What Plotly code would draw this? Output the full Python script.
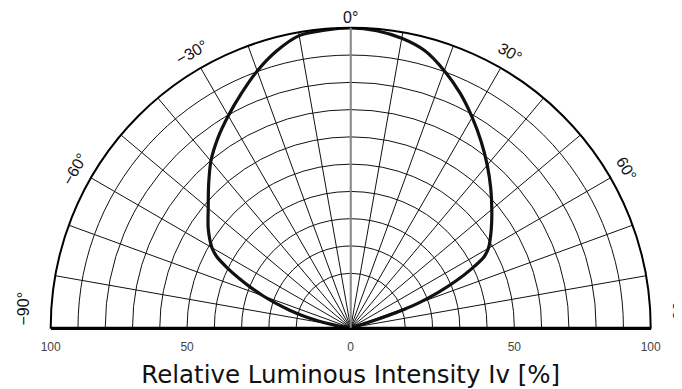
import numpy as np
import plotly.graph_objects as go

# ---- data ----
# emission angle in degrees (0 = on-axis, negative = left half)
angles = [-90, -84, -82, -80, -78, -76, -74, -72, -70, -68, -66, -64, -62, -60,
          -55, -50, -45, -40, -35, -30, -25, -20, -15, -10, -5, 0,
          5, 10, 15, 20, 25, 30, 35, 40, 45, 50, 55, 60,
          62, 64, 66, 68, 70, 71, 72, 73, 74, 90]
# relative luminous intensity (% of outer circle)
intensity = [0, 0, 3, 6.5, 11, 16, 21, 26, 31, 36, 41, 46, 50.6, 53.4,
             58, 62, 67, 72.5, 77.2, 81.6, 86.2, 91.1, 95.5, 98.9, 99.6, 100,
             99.4, 98.0, 95.6, 91.2, 86.3, 81.0, 75.8, 70.8, 66.0, 61.4, 57.2, 53.0,
             50.3, 44.8, 38.5, 31.5, 24, 19, 13, 6, 0, 0]

# angular tick labels
label_angles = [-90, -60, -30, 0, 30, 60, 90]
label_text = ["\u221290\u00b0", "\u221260\u00b0", "\u221230\u00b0", "0\u00b0",
              "30\u00b0", "60\u00b0", "90\u00b0"]

# bottom scale tick labels
scale_vals = [-100, -600 / 11, 0, 600 / 11, 100]
scale_text = ["100", "50", "0", "50", "100"]

# radial grid circles (11 equal divisions, innermost hidden)
grid_vals = [k * 100 / 11 for k in range(2, 12)]

title_text = "Relative Luminous Intensity Iv [%]"

# ---- layout geometry (pixels) ----
OFF = 8                      # page body margin around the figure
W, H = 682 - OFF, 389 - OFF  # figure fits the window exactly
cx, cy, R = 350.7 - OFF, 327.8 - OFF, 300.0
dom_x = [(cx - R) / W, (cx + R) / W]
dom_y = [1 - cy / H, 1 - (cy - R) / H]
unit = R / 100.0  # pixels per radial percent

fig = go.Figure()

fig.add_trace(go.Scatterpolar(
    r=intensity, theta=angles, mode="lines",
    line=dict(color="#111111", width=3.2, shape="spline", smoothing=0.7),
    showlegend=False, hoverinfo="skip",
))

# empty cartesian traces so the overlay axes exist
fig.add_trace(go.Scatter(x=[], y=[], showlegend=False))
fig.add_trace(go.Scatter(x=[], y=[], xaxis="x2", yaxis="y2", showlegend=False))

annotations = []
for a, t in zip(label_angles, label_text):
    s, c = np.sin(np.radians(a)), np.cos(np.radians(a))
    font = dict(family="Liberation Sans", size=16, color="#111111")
    if abs(a) == 90:
        annotations.append(dict(
            x=109 * s, y=0, xref="x2", yref="y2", text=t, showarrow=False,
            textangle=a, xanchor="center", yanchor="bottom", font=font))
    else:
        rr = 103.5 if a == 0 else 106
        annotations.append(dict(
            x=rr * s, y=rr * c, xref="x2", yref="y2", text=t, showarrow=False,
            textangle=a, xanchor="center", yanchor="middle", font=font))

fig.update_layout(
    width=W, height=H,
    margin=dict(l=0, r=0, t=0, b=0, autoexpand=False),
    paper_bgcolor="white", plot_bgcolor="rgba(0,0,0,0)",
    polar=dict(
        domain=dict(x=dom_x, y=dom_y),
        sector=[0, 180],
        bgcolor="rgba(0,0,0,0)",
        angularaxis=dict(
            rotation=90, direction="clockwise",
            tickmode="linear", tick0=0, dtick=10,
            showgrid=True, gridcolor="#111111", gridwidth=1,
            showline=True, linecolor="#000000", linewidth=2,
            ticks="", showticklabels=False,
        ),
        radialaxis=dict(
            range=[0, 100], angle=90,
            tickmode="array", tickvals=grid_vals,
            showgrid=True, gridcolor="#111111", gridwidth=1,
            showline=True, linecolor="#8a8a8a", linewidth=2,
            ticks="", showticklabels=False,
        ),
    ),
    xaxis=dict(
        domain=dom_x, range=[-100, 100], automargin=False,
        showgrid=False, zeroline=False,
        showline=True, linecolor="#000000", linewidth=2,
        tickmode="array", tickvals=scale_vals, ticktext=scale_text,
        ticks="", ticklabelstandoff=7,
        tickfont=dict(family="Liberation Sans", size=12, color="#444444"),
        title=dict(text=title_text, standoff=13,
                   font=dict(family="DejaVu Sans", size=24.5, color="#111111")),
        fixedrange=True,
    ),
    yaxis=dict(
        domain=dom_y, range=[0, 100], visible=False, fixedrange=True,
        automargin=False,
    ),
    # full-figure overlay axes (same units as the polar radius) for angle labels
    xaxis2=dict(
        domain=[0, 1], range=[-cx / unit, (W - cx) / unit], visible=False,
        anchor="y2", fixedrange=True, automargin=False,
    ),
    yaxis2=dict(
        domain=[0, 1], range=[-(H - cy) / unit, cy / unit], visible=False,
        anchor="x2", fixedrange=True, automargin=False,
    ),
    annotations=annotations,
)

fig.write_html("out.html")
